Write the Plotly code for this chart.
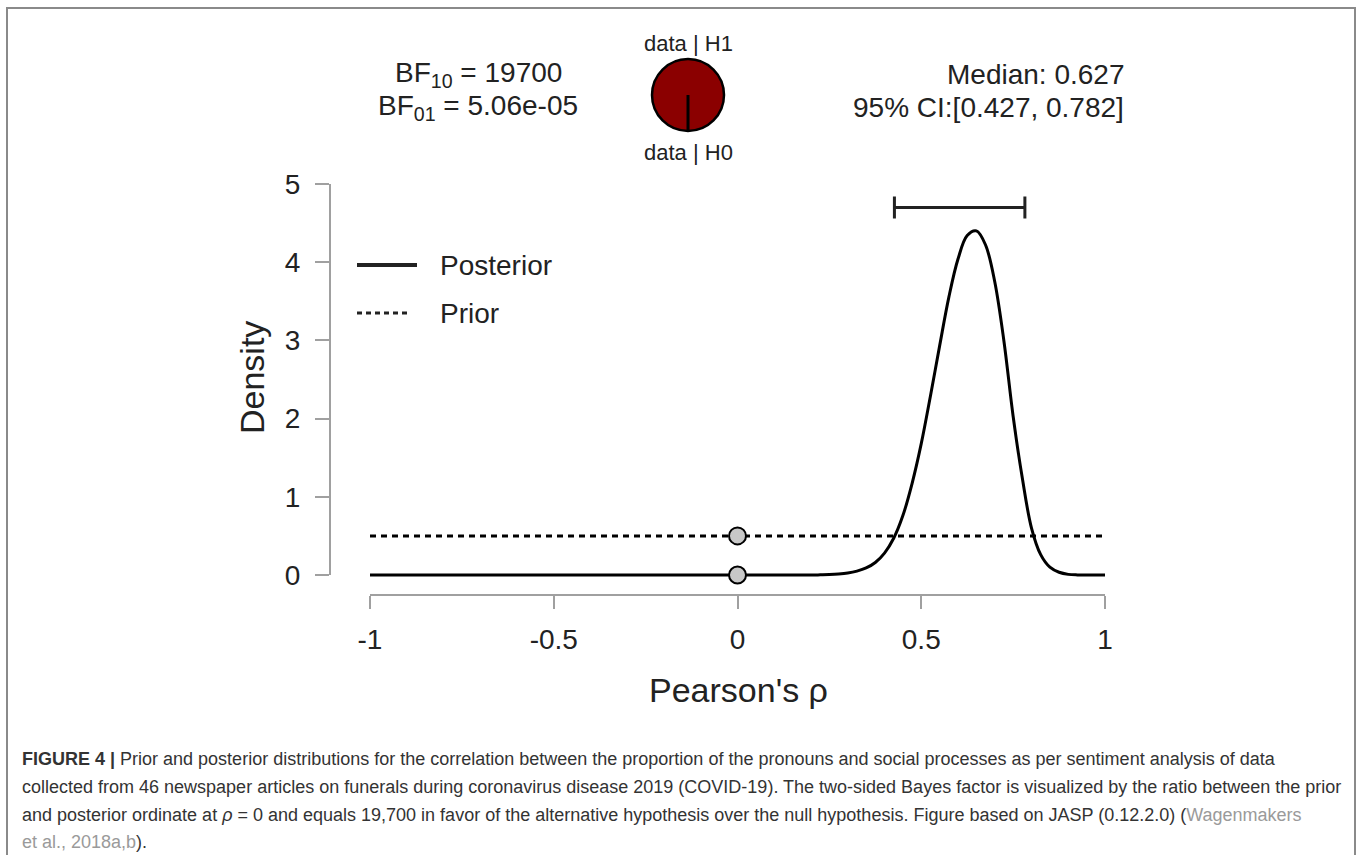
import plotly.graph_objects as go

# ---------------- data ----------------
rho_post = [-1.0, -0.5, 0.0, 0.15, 0.200, 0.225, 0.250, 0.275, 0.300, 0.325, 0.350, 0.375,
            0.400, 0.425, 0.450, 0.475, 0.500, 0.525, 0.550, 0.575, 0.600, 0.625,
            0.650, 0.675, 0.700, 0.725, 0.750, 0.775, 0.800, 0.825, 0.850, 0.875,
            0.900, 0.925, 0.95, 1.0]
dens_post = [0.0, 0.0, 0.0, 0.0, 0.0, 0.002, 0.005, 0.012, 0.025, 0.05, 0.09, 0.16,
             0.28, 0.47, 0.76, 1.17, 1.68, 2.29, 2.93, 3.55, 4.04, 4.34,
             4.40, 4.22, 3.75, 2.99, 2.03, 1.24, 0.60, 0.26, 0.10, 0.035,
             0.008, 0.001, 0.0, 0.0]
rho_prior = [-1.0, 1.0]
dens_prior = [0.5, 0.5]
rho_zero = [0.0, 0.0]
dens_zero = [0.0, 0.5]

median = 0.627
ci_low, ci_high = 0.427, 0.782
ci_height = 4.7

x_tickvals = [-1, -0.5, 0, 0.5, 1]
x_ticktext = ["-1", "-0.5", "0", "0.5", "1"]
y_tickvals = [0, 1, 2, 3, 4, 5]
y_ticktext = ["0", "1", "2", "3", "4", "5"]

bf10_text = "19700"
bf01_text = "5.06e-05"
median_text = "0.627"
ci_text = "[0.427, 0.782]"

# ---------------- layout geometry ----------------
W, H = 1358, 855
L, R, T, B = 330, 1140, 170, 595
XPX = 367.5   # px per unit x
YPX = 78.2    # px per unit y
X0PX, Y0PX = 370, 575  # pixel of x=-1, y=0

def px(x):
    return (x - L) / (R - L)

def py(y):
    return (B - y) / (B - T)

xr = [-1 - (X0PX - L) / XPX, -1 + (R - X0PX) / XPX]
yr = [-(B - Y0PX) / YPX, (Y0PX - T) / YPX]

def dx(xp):  # pixel -> data x
    return -1 + (xp - X0PX) / XPX

def dy(yp):  # pixel -> data y
    return (Y0PX - yp) / YPX

FONT = "Liberation Sans, Arial, sans-serif"
TXT = "#222222"
AX = "#a0a0a0"

fig = go.Figure()

fig.add_trace(go.Scatter(x=rho_prior, y=dens_prior, mode="lines",
                         line=dict(color="black", width=3, dash="6px,5px"),
                         showlegend=False, hoverinfo="skip"))
fig.add_trace(go.Scatter(x=rho_post, y=dens_post, mode="lines",
                         line=dict(color="black", width=3, shape="spline", smoothing=1.0),
                         showlegend=False, hoverinfo="skip"))
fig.add_trace(go.Scatter(x=rho_zero, y=dens_zero, mode="markers",
                         marker=dict(size=17, color="#c8c8c8", line=dict(color="black", width=2)),
                         showlegend=False, hoverinfo="skip"))
fig.add_trace(go.Scatter(x=[median], y=[ci_height], mode="markers",
                         marker=dict(size=1, color="rgba(0,0,0,0)"),
                         error_x=dict(type="data", symmetric=False,
                                      array=[ci_high - median], arrayminus=[median - ci_low],
                                      color="#222222", thickness=3, width=11),
                         showlegend=False, hoverinfo="skip"))

shapes = []
# axis lines (R style, detached)
shapes.append(dict(type="line", xref="x", yref="paper", x0=-1, x1=1, y0=0, y1=0,
                   line=dict(color=AX, width=2)))
shapes.append(dict(type="line", xref="paper", yref="y", x0=0, x1=0, y0=0, y1=5,
                   line=dict(color=AX, width=2)))
# legend lines
shapes.append(dict(type="line", xref="x", yref="y", x0=dx(357), x1=dx(417), y0=dy(265), y1=dy(265),
                   line=dict(color="#222222", width=4)))
shapes.append(dict(type="line", xref="x", yref="y", x0=dx(357), x1=dx(411), y0=dy(313), y1=dy(313),
                   line=dict(color="#222222", width=3, dash="5px,4px")))
# pie (data|H1 vs data|H0)
shapes.append(dict(type="circle", xref="paper", yref="paper",
                   x0=px(652), x1=px(724), y0=py(131), y1=py(59),
                   fillcolor="#8b0000", line=dict(color="black", width=2.5)))
shapes.append(dict(type="line", xref="paper", yref="paper",
                   x0=px(688), x1=px(688), y0=py(95), y1=py(130),
                   line=dict(color="black", width=3)))
# figure border
shapes.append(dict(type="rect", xref="paper", yref="paper",
                   x0=px(7), x1=px(1355), y0=py(880), y1=py(8),
                   line=dict(color="#8a8a8a", width=2), fillcolor="rgba(0,0,0,0)", layer="below"))

ann = []
def A(text, x, y, size, xanchor="center", color=TXT, angle=0, font=FONT):
    ann.append(dict(text=text, xref="paper", yref="paper", x=px(x), y=py(y),
                    xanchor=xanchor, yanchor="middle", showarrow=False, textangle=angle,
                    font=dict(family=font, size=size, color=color)))

A("Density", 252, 378, 34, angle=-90)
A("Pearson's ρ", 738, 690, 34)
A("Posterior", 438, 265, 28, xanchor="left")
A("Prior", 438, 313, 28, xanchor="left")
A("data | H1", 688, 43, 22)
A("data | H0", 688, 152, 22)
A("BF<sub>10</sub> = " + bf10_text, 478, 75, 28)
A("BF<sub>01</sub> = " + bf01_text, 478, 108, 28)
A("Median: " + median_text, 1126, 75, 28, xanchor="right")
A("95% CI:" + ci_text, 1126, 108, 28, xanchor="right")

CAP = "Liberation Sans, Arial, sans-serif"
cap_size = 18
A("<b>FIGURE 4 |</b> Prior and posterior distributions for the correlation between the proportion of the pronouns and social processes as per sentiment analysis of data",
  20, 759, cap_size, xanchor="left", color="#333333", font=CAP)
A("collected from 46 newspaper articles on funerals during coronavirus disease 2019 (COVID-19). The two-sided Bayes factor is visualized by the ratio between the prior",
  20, 787, cap_size, xanchor="left", color="#333333", font=CAP)
A("and posterior ordinate at <i>ρ</i> = 0 and equals 19,700 in favor of the alternative hypothesis over the null hypothesis. Figure based on JASP (0.12.2.0) (<span style='color:#9a9a9a'>Wagenmakers</span>",
  20, 815, cap_size, xanchor="left", color="#333333", font=CAP)
A("<span style='color:#9a9a9a'>et al., 2018a,b</span>).",
  20, 842, cap_size, xanchor="left", color="#333333", font=CAP)

fig.update_layout(
    width=W, height=H,
    margin=dict(l=L, r=W - R, t=T, b=H - B, pad=0),
    paper_bgcolor="white", plot_bgcolor="white",
    showlegend=False,
    shapes=shapes, annotations=ann,
    font=dict(family=FONT, color=TXT),
    xaxis=dict(range=xr, showgrid=False, zeroline=False, showline=False,
               tickvals=x_tickvals, ticktext=x_ticktext, ticks="outside",
               ticklen=13, tickwidth=2, tickcolor=AX, ticklabelstandoff=6,
               tickfont=dict(size=28, color=TXT, family=FONT), fixedrange=True),
    yaxis=dict(range=yr, showgrid=False, zeroline=False, showline=False,
               tickvals=y_tickvals, ticktext=y_ticktext, ticks="outside",
               ticklen=14, tickwidth=2, tickcolor=AX, ticklabelstandoff=9,
               tickfont=dict(size=28, color=TXT, family=FONT), fixedrange=True),
)

fig.write_html("out.html", config={"displayModeBar": False})
